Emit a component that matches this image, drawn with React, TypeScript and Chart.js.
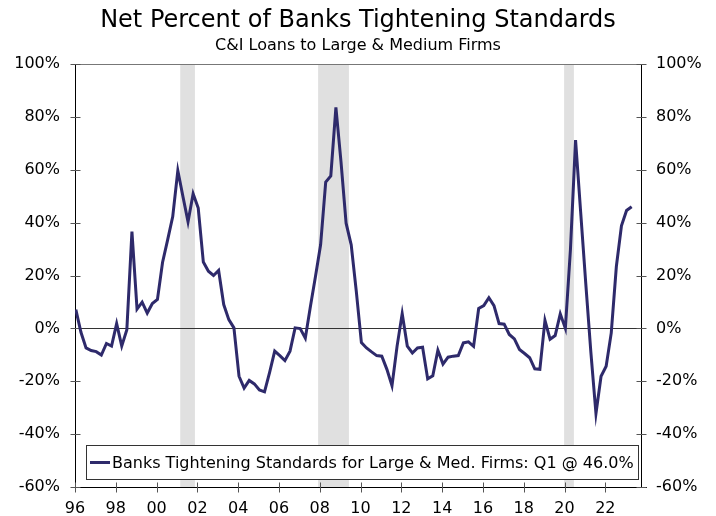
import React, { useEffect, useRef } from "react";
import { Chart, registerables } from "chart.js";

Chart.register(...registerables);

// Survey rounds run quarterly from January 1996 through April 2023
const START_YEAR = 1996;
const MONTH_OFFSET = 1 / 24;

// Net percent of banks tightening standards, C&I loans to large & medium firms
const tighteningLargeMed: number[] = [
  7.1, -1.5, -7.4, -8.4, -8.8, -10.1, -5.7, -6.7, 1.8, -6.7,
  -0.5, 36.6, 7.3, 9.9, 5.8, 9.4, 10.9, 24.9, 33.5, 42.3,
  59.7, 49.9, 40.3, 50.9, 45.5, 25.1, 21.6, 20.0, 21.9, 9.0,
  3.3, 0.2, -18.1, -22.6, -19.7, -21.0, -23.3, -24.0, -16.6, -8.6,
  -10.3, -12.2, -8.6, 0.2, -0.1, -3.7, 8.3, 19.7, 31.6, 55.3,
  57.7, 83.6, 63.0, 39.8, 31.6, 14.0, -5.4, -7.4, -8.9, -10.3,
  -10.5, -15.5, -21.7, -6.7, 5.6, -6.7, -9.3, -7.4, -7.1, -19.1,
  -17.9, -8.3, -13.5, -10.9, -10.5, -10.3, -5.5, -5.1, -6.8, 7.5,
  8.6, 11.6, 8.6, 1.8, 1.6, -2.3, -4.0, -8.0, -9.5, -11.1,
  -15.3, -15.5, 3.0, -4.1, -2.7, 5.5, 0.0, 30.0, 71.2, 44.0,
  17.0, -9.0, -32.2, -18.1, -14.3, -1.7, 23.4, 38.8, 44.6, 46.0,
];

const latestQuarterLabel = "Q1";
const seriesName = "Banks Tightening Standards for Large & Med. Firms";

// Recession periods, in fractional years
const recessionStarts: number[] = [2001.16, 2007.92, 2019.98];
const recessionEnds: number[] = [2001.88, 2009.43, 2020.46];

const xTickYears: number[] = [
  1996, 1998, 2000, 2002, 2004, 2006, 2008, 2010, 2012, 2014, 2016, 2018, 2020, 2022,
];
const yTickValues: number[] = [-60, -40, -20, 0, 20, 40, 60, 80, 100];

const TITLE = "Net Percent of Banks Tightening Standards";
const SUBTITLE = "C&I Loans to Large & Medium Firms";

const FONT = "'DejaVu Sans', Verdana, sans-serif";
const LINE_COLOR = "#2E2A6B";
const SHADE_COLOR = "#E0E0E0";

const points = tighteningLargeMed.map((v, i) => ({
  x: START_YEAR + i * 0.25 + MONTH_OFFSET,
  y: v,
}));

const decorPlugin = {
  id: "decor",
  beforeDatasetsDraw(chart: any) {
    const { ctx, chartArea: a, scales } = chart;
    const xs = scales.x;
    const ys = scales.y;
    ctx.save();
    // recession shading
    ctx.fillStyle = SHADE_COLOR;
    recessionStarts.forEach((s, i) => {
      const x0 = xs.getPixelForValue(s);
      const x1 = xs.getPixelForValue(recessionEnds[i]);
      ctx.fillRect(x0, a.top, x1 - x0, a.bottom - a.top);
    });
    // zero line
    const y0 = Math.round(ys.getPixelForValue(0)) + 0.5;
    ctx.strokeStyle = "#333333";
    ctx.lineWidth = 1;
    ctx.beginPath();
    ctx.moveTo(a.left, y0);
    ctx.lineTo(a.right, y0);
    ctx.stroke();
    // top border
    ctx.strokeStyle = "#777777";
    ctx.beginPath();
    ctx.moveTo(a.left, Math.round(a.top) + 0.5);
    ctx.lineTo(a.right, Math.round(a.top) + 0.5);
    ctx.stroke();
    // axis lines
    const L = Math.round(a.left) + 0.5;
    const R = Math.round(a.right) + 0.5;
    const B = Math.round(a.bottom) + 0.5;
    ctx.strokeStyle = "#000000";
    ctx.beginPath();
    ctx.moveTo(L, a.top);
    ctx.lineTo(L, a.bottom);
    ctx.moveTo(R, a.top);
    ctx.lineTo(R, a.bottom);
    ctx.moveTo(a.left, B);
    ctx.lineTo(a.right + 6, B);
    ctx.stroke();
    // tick marks crossing the axes
    ctx.strokeStyle = "#555555";
    ctx.beginPath();
    yTickValues.forEach((v) => {
      const y = Math.round(ys.getPixelForValue(v)) + 0.5;
      ctx.moveTo(L - 5, y);
      ctx.lineTo(L + 5, y);
      ctx.moveTo(R - 5, y);
      ctx.lineTo(R + 5, y);
    });
    xTickYears.forEach((v) => {
      const x = Math.round(xs.getPixelForValue(v)) + 0.5;
      ctx.moveTo(x, B - 5);
      ctx.lineTo(x, B + 5);
    });
    ctx.stroke();
    ctx.restore();
  },
  afterDatasetsDraw(chart: any) {
    const { ctx, chartArea: a } = chart;
    ctx.save();
    // legend box
    const bx = a.left + 11;
    const by = 445.5;
    const bw = 552;
    const bh = 34;
    ctx.fillStyle = "#FFFFFF";
    ctx.fillRect(bx, by, bw, bh);
    ctx.strokeStyle = "#333333";
    ctx.lineWidth = 1;
    ctx.strokeRect(bx + 0.5, by, bw, bh);
    const cy = by + bh / 2;
    ctx.strokeStyle = LINE_COLOR;
    ctx.lineWidth = 3;
    ctx.beginPath();
    ctx.moveTo(bx + 4, cy);
    ctx.lineTo(bx + 24, cy);
    ctx.stroke();
    const last = tighteningLargeMed[tighteningLargeMed.length - 1];
    ctx.fillStyle = "#000000";
    ctx.font = `16px ${FONT}`;
    ctx.textAlign = "left";
    ctx.textBaseline = "middle";
    ctx.fillText(`${seriesName}: ${latestQuarterLabel} @ ${last.toFixed(1)}%`, bx + 26, cy + 1);
    // titles
    const cx = chart.width / 2;
    ctx.textAlign = "center";
    ctx.font = `24px ${FONT}`;
    ctx.fillText(TITLE, cx, 21);
    ctx.font = `16px ${FONT}`;
    ctx.fillText(SUBTITLE, cx, 46);
    ctx.restore();
  },
};

export default function App() {
  const canvasRef = useRef<HTMLCanvasElement | null>(null);

  useEffect(() => {
    const canvas = canvasRef.current;
    if (!canvas) return;
    const yAxis = (position: "left" | "right") => ({
      type: "linear" as const,
      position,
      min: -60,
      max: 100,
      grid: { display: false, drawTicks: false },
      border: { display: false },
      afterBuildTicks: (s: any) => {
        s.ticks = yTickValues.map((v) => ({ value: v }));
      },
      afterFit: (s: any) => {
        s.width = 75;
      },
      ticks: {
        padding: 15,
        color: "#000000",
        font: { family: FONT, size: 16 },
        callback: (v: any) => `${v}%`,
      },
    });
    const chart = new Chart(canvas, {
      type: "line",
      data: {
        datasets: [
          {
            label: seriesName,
            data: points,
            borderColor: LINE_COLOR,
            borderWidth: 3,
            pointRadius: 0,
            tension: 0,
            fill: false,
            yAxisID: "y",
          },
        ],
      },
      options: {
        responsive: false,
        animation: false,
        devicePixelRatio: 1,
        layout: { padding: { top: 64, left: 0, right: 0, bottom: 0 } },
        plugins: {
          legend: { display: false },
          title: { display: false },
          tooltip: { enabled: false },
        },
        scales: {
          x: {
            type: "linear",
            position: "bottom",
            min: 1996,
            max: 2023.75,
            grid: { display: false, drawTicks: false },
            border: { display: false },
            afterBuildTicks: (s: any) => {
              s.ticks = xTickYears.map((v) => ({ value: v }));
            },
            afterFit: (s: any) => {
              s.height = 29;
            },
            ticks: {
              padding: 12,
              color: "#000000",
              maxRotation: 0,
              autoSkip: false,
              font: { family: FONT, size: 16 },
              callback: (v: any) => String(Number(v) % 100).padStart(2, "0"),
            },
          },
          y: yAxis("left"),
          y2: yAxis("right"),
        },
      },
      plugins: [decorPlugin],
    });
    return () => chart.destroy();
  }, []);

  return (
    <div style={{ position: "absolute", left: 0, top: 0, width: 716, height: 516, background: "#fff" }}>
      <canvas ref={canvasRef} width={716} height={516} style={{ display: "block" }} />
    </div>
  );
}
